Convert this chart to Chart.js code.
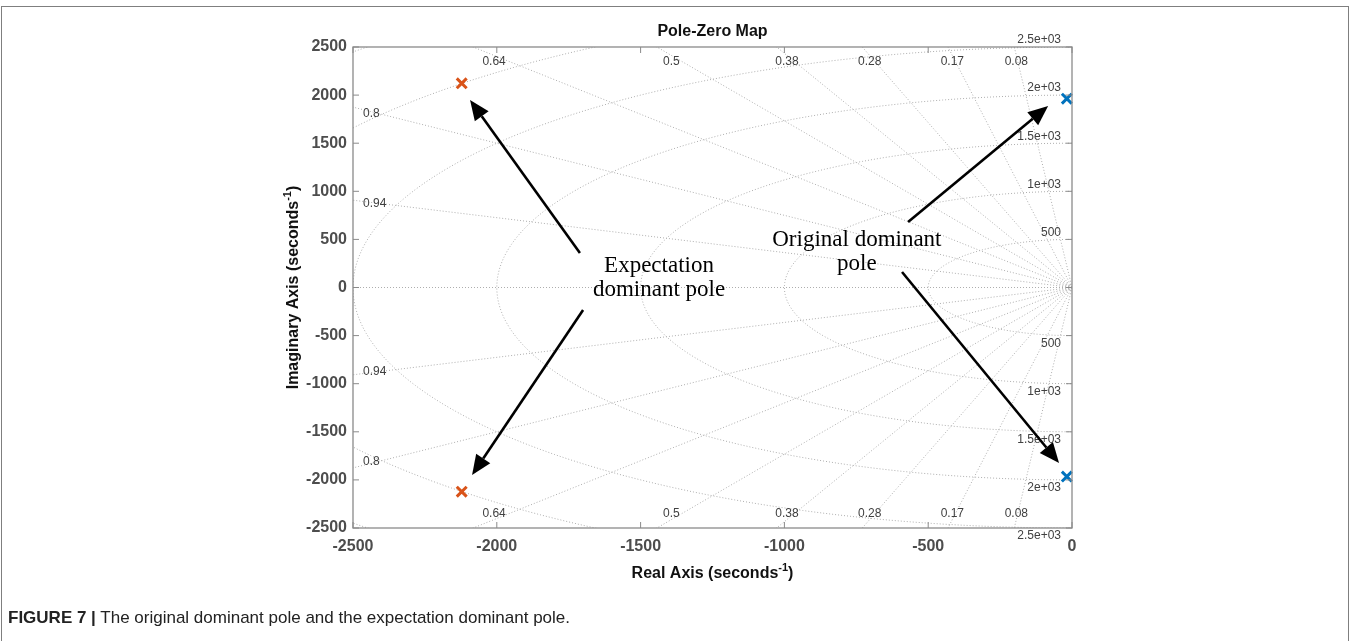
<!DOCTYPE html>
<html>
<head>
<meta charset="utf-8">
<script src="https://cdn.jsdelivr.net/npm/chart.js@4"></script>
<style>
  html, body { margin: 0; padding: 0; background: #fff; overflow: hidden; }
  #frame { position: absolute; left: 1px; top: 6px; width: 1346px; height: 700px;
           border: 1.5px solid #7f7f7f; border-bottom: none; }
  #wrap { position: absolute; left: 0; top: 0; width: 1352px; height: 641px; }
  #caption { position: absolute; left: 8px; top: 608px; font: 17px "Liberation Sans", Arial, sans-serif;
             color: #222; white-space: nowrap; }
  #caption b { font-weight: bold; }
</style>
</head>
<body>
<div id="frame"></div>
<div id="wrap"><canvas id="c" width="1352" height="641"></canvas></div>
<div id="caption"><b>FIGURE 7 |</b> The original dominant pole and the expectation dominant pole.</div>
<script>
// Axis ticks (seconds^-1)
const xTicks = [-2500, -2000, -1500, -1000, -500, 0];
const yTicks = [-2500, -2000, -1500, -1000, -500, 0, 500, 1000, 1500, 2000, 2500];

// Poles of the original and the expectation system
const originalPoleRe = [-18, -18];
const originalPoleIm = [1963, -1965];
const expectationPoleRe = [-2122, -2122];
const expectationPoleIm = [2123, -2123];

// s-plane grid: constant damping rays and constant natural-frequency circles
const dampingRatios = [0.94, 0.8, 0.64, 0.5, 0.38, 0.28, 0.17, 0.08];
const dampingLabels = ['0.94', '0.8', '0.64', '0.5', '0.38', '0.28', '0.17', '0.08'];
const naturalFreqs = [500, 1000, 1500, 2000, 2500, 3000, 3500];
const freqLabels = ['500', '1e+03', '1.5e+03', '2e+03', '2.5e+03', '', ''];

// Callouts: text block anchor and arrows (data coordinates)
const calloutTexts = [
  { lines: ['Expectation', 'dominant pole'], x: -1436, y: 161 },
  { lines: ['Original dominant', 'pole'], x: -748, y: 431 }
];
const calloutArrows = [
  { from: [-1711, 359], to: [-2093, 1949] },
  { from: [-1700, -234], to: [-2086, -1949] },
  { from: [-570, 681], to: [-83, 1887] },
  { from: [-591, 161], to: [-45, -1824] }
];

const X_MIN = -2500, X_MAX = 0, Y_MIN = -2500, Y_MAX = 2500;
const GRID_COLOR = '#aeaeae';
const FONT = '"Liberation Sans", Arial, sans-serif';

function gridStyle(data) {
  return {
    type: 'scatter', data, showLine: true, pointRadius: 0, pointHoverRadius: 0,
    borderColor: GRID_COLOR, borderWidth: 1, borderDash: [1, 2], fill: false, clip: 0, order: 5
  };
}

const gridSets = [];
const REACH = 5000;
// negative real axis (zeta = 1)
gridSets.push(gridStyle([{ x: 0, y: 0 }, { x: -REACH, y: 0 }]));
dampingRatios.forEach(z => {
  const w = Math.sqrt(1 - z * z);
  gridSets.push(gridStyle([{ x: 0, y: 0 }, { x: -REACH * z, y: REACH * w }]));
  gridSets.push(gridStyle([{ x: 0, y: 0 }, { x: -REACH * z, y: -REACH * w }]));
});
naturalFreqs.forEach(wn => {
  const pts = [];
  for (let i = 0; i <= 180; i++) {
    const a = Math.PI / 2 + Math.PI * i / 180;
    pts.push({ x: wn * Math.cos(a), y: wn * Math.sin(a) });
  }
  gridSets.push(gridStyle(pts));
});

function toPoints(re, im) { return re.map((r, i) => ({ x: r, y: im[i] })); }

const overlayPlugin = {
  id: 'overlay',
  afterDatasetsDraw(chart) {
    const { ctx, chartArea: ca, scales: { x: xs, y: ys } } = chart;
    const px = v => xs.getPixelForValue(v);
    const py = v => ys.getPixelForValue(v);
    ctx.save();

    // damping labels near where each ray leaves the box
    ctx.font = '12px ' + FONT;
    ctx.fillStyle = '#404040';
    dampingRatios.forEach((z, i) => {
      const w = Math.sqrt(1 - z * z);
      const t = Math.min(-X_MIN / z, Y_MAX / w);
      const hx = -t * z, hy = t * w;
      [1, -1].forEach(sgn => {
        if (hy >= Y_MAX - 1e-6) {
          ctx.textAlign = 'center';
          ctx.textBaseline = sgn > 0 ? 'top' : 'bottom';
          ctx.fillText(dampingLabels[i], px(hx * 0.965), py(sgn * hy * 0.965));
        } else {
          ctx.textAlign = 'left';
          ctx.textBaseline = 'middle';
          ctx.fillText(dampingLabels[i], ca.left + 10, py(sgn * hy * 0.965));
        }
      });
    });

    // natural frequency labels along the imaginary axis
    ctx.textAlign = 'right';
    naturalFreqs.forEach((wn, i) => {
      if (!freqLabels[i]) return;
      ctx.textBaseline = 'bottom';
      ctx.fillText(freqLabels[i], ca.right - 11, py(wn) - 1);
      ctx.textBaseline = 'top';
      ctx.fillText(freqLabels[i], ca.right - 11, py(-wn) + 2);
    });

    // axes box with inward ticks
    ctx.strokeStyle = '#8a8a8a';
    ctx.lineWidth = 1.3;
    ctx.strokeRect(ca.left, ca.top, ca.right - ca.left, ca.bottom - ca.top);
    ctx.lineWidth = 1;
    ctx.beginPath();
    xTicks.forEach(v => {
      const x = px(v);
      ctx.moveTo(x, ca.bottom); ctx.lineTo(x, ca.bottom - 6);
      ctx.moveTo(x, ca.top); ctx.lineTo(x, ca.top + 6);
    });
    yTicks.forEach(v => {
      const y = py(v);
      ctx.moveTo(ca.left, y); ctx.lineTo(ca.left + 6, y);
      ctx.moveTo(ca.right, y); ctx.lineTo(ca.right - 6, y);
    });
    ctx.stroke();

    // title and axis titles
    const cx = (ca.left + ca.right) / 2;
    ctx.fillStyle = '#111';
    ctx.font = 'bold 16px ' + FONT;
    ctx.textAlign = 'center';
    ctx.textBaseline = 'middle';
    ctx.fillText('Pole-Zero Map', cx, 32);

    function drawSupText(main, x, y) {
      ctx.font = 'bold 16px ' + FONT;
      const w1 = ctx.measureText(main).width;
      const w3 = ctx.measureText(')').width;
      ctx.font = 'bold 11px ' + FONT;
      const w2 = ctx.measureText('-1').width;
      const sx = x - (w1 + w2 + w3) / 2;
      ctx.textAlign = 'left';
      ctx.textBaseline = 'alphabetic';
      ctx.font = 'bold 16px ' + FONT;
      ctx.fillText(main, sx, y);
      ctx.font = 'bold 11px ' + FONT;
      ctx.fillText('-1', sx + w1, y - 7);
      ctx.font = 'bold 16px ' + FONT;
      ctx.fillText(')', sx + w1 + w2, y);
    }
    drawSupText('Real Axis (seconds', cx, 578);
    ctx.save();
    ctx.translate(298, (ca.top + ca.bottom) / 2);
    ctx.rotate(-Math.PI / 2);
    drawSupText('Imaginary Axis (seconds', 0, 0);
    ctx.restore();

    // callout texts
    ctx.fillStyle = '#000';
    ctx.font = '23px "Liberation Serif", "Times New Roman", serif';
    ctx.textAlign = 'center';
    ctx.textBaseline = 'alphabetic';
    calloutTexts.forEach(c => {
      c.lines.forEach((ln, k) => ctx.fillText(ln, px(c.x), py(c.y) + k * 24));
    });

    // callout arrows
    ctx.strokeStyle = '#000';
    ctx.lineWidth = 2.6;
    calloutArrows.forEach(a => {
      const x0 = px(a.from[0]), y0 = py(a.from[1]);
      const x1 = px(a.to[0]), y1 = py(a.to[1]);
      const ang = Math.atan2(y1 - y0, x1 - x0);
      const L = 20, W = 8.5;
      const bx = x1 - L * Math.cos(ang), by = y1 - L * Math.sin(ang);
      ctx.beginPath();
      ctx.moveTo(x0, y0); ctx.lineTo(bx, by);
      ctx.stroke();
      ctx.beginPath();
      ctx.moveTo(x1, y1);
      ctx.lineTo(bx + W * Math.sin(ang), by - W * Math.cos(ang));
      ctx.lineTo(bx - W * Math.sin(ang), by + W * Math.cos(ang));
      ctx.closePath();
      ctx.fillStyle = '#000';
      ctx.fill();
    });

    ctx.restore();
  }
};

const tickFont = { family: FONT, size: 16, weight: 'bold' };

new Chart(document.getElementById('c'), {
  type: 'scatter',
  data: {
    datasets: [
      ...gridSets,
      {
        type: 'scatter', label: 'Expectation poles', data: toPoints(expectationPoleRe, expectationPoleIm),
        pointStyle: 'crossRot', pointRadius: 7, borderColor: '#D95319', backgroundColor: '#D95319',
        borderWidth: 3, clip: false, order: 1
      },
      {
        type: 'scatter', label: 'Original poles', data: toPoints(originalPoleRe, originalPoleIm),
        pointStyle: 'crossRot', pointRadius: 7, borderColor: '#0072BD', backgroundColor: '#0072BD',
        borderWidth: 3, clip: false, order: 1
      }
    ]
  },
  options: {
    responsive: false,
    animation: false,
    events: [],
    layout: { padding: { left: 293, top: 47, right: 280, bottom: 73 } },
    plugins: { legend: { display: false }, tooltip: { enabled: false }, title: { display: false } },
    scales: {
      x: {
        type: 'linear', min: X_MIN, max: X_MAX,
        afterBuildTicks: s => { s.ticks = xTicks.map(v => ({ value: v })); },
        afterFit: s => { s.height = 40; },
        grid: { display: false, drawTicks: false },
        border: { display: false },
        ticks: { font: tickFont, color: '#4d4d4d', padding: 9, maxRotation: 0, callback: v => String(v) }
      },
      y: {
        type: 'linear', min: Y_MIN, max: Y_MAX,
        afterBuildTicks: s => { s.ticks = yTicks.map(v => ({ value: v })); },
        afterFit: s => { s.width = 60; },
        grid: { display: false, drawTicks: false },
        border: { display: false },
        ticks: { font: tickFont, color: '#4d4d4d', padding: 6, callback: v => String(v) }
      }
    }
  },
  plugins: [overlayPlugin]
});
</script>
</body>
</html>
